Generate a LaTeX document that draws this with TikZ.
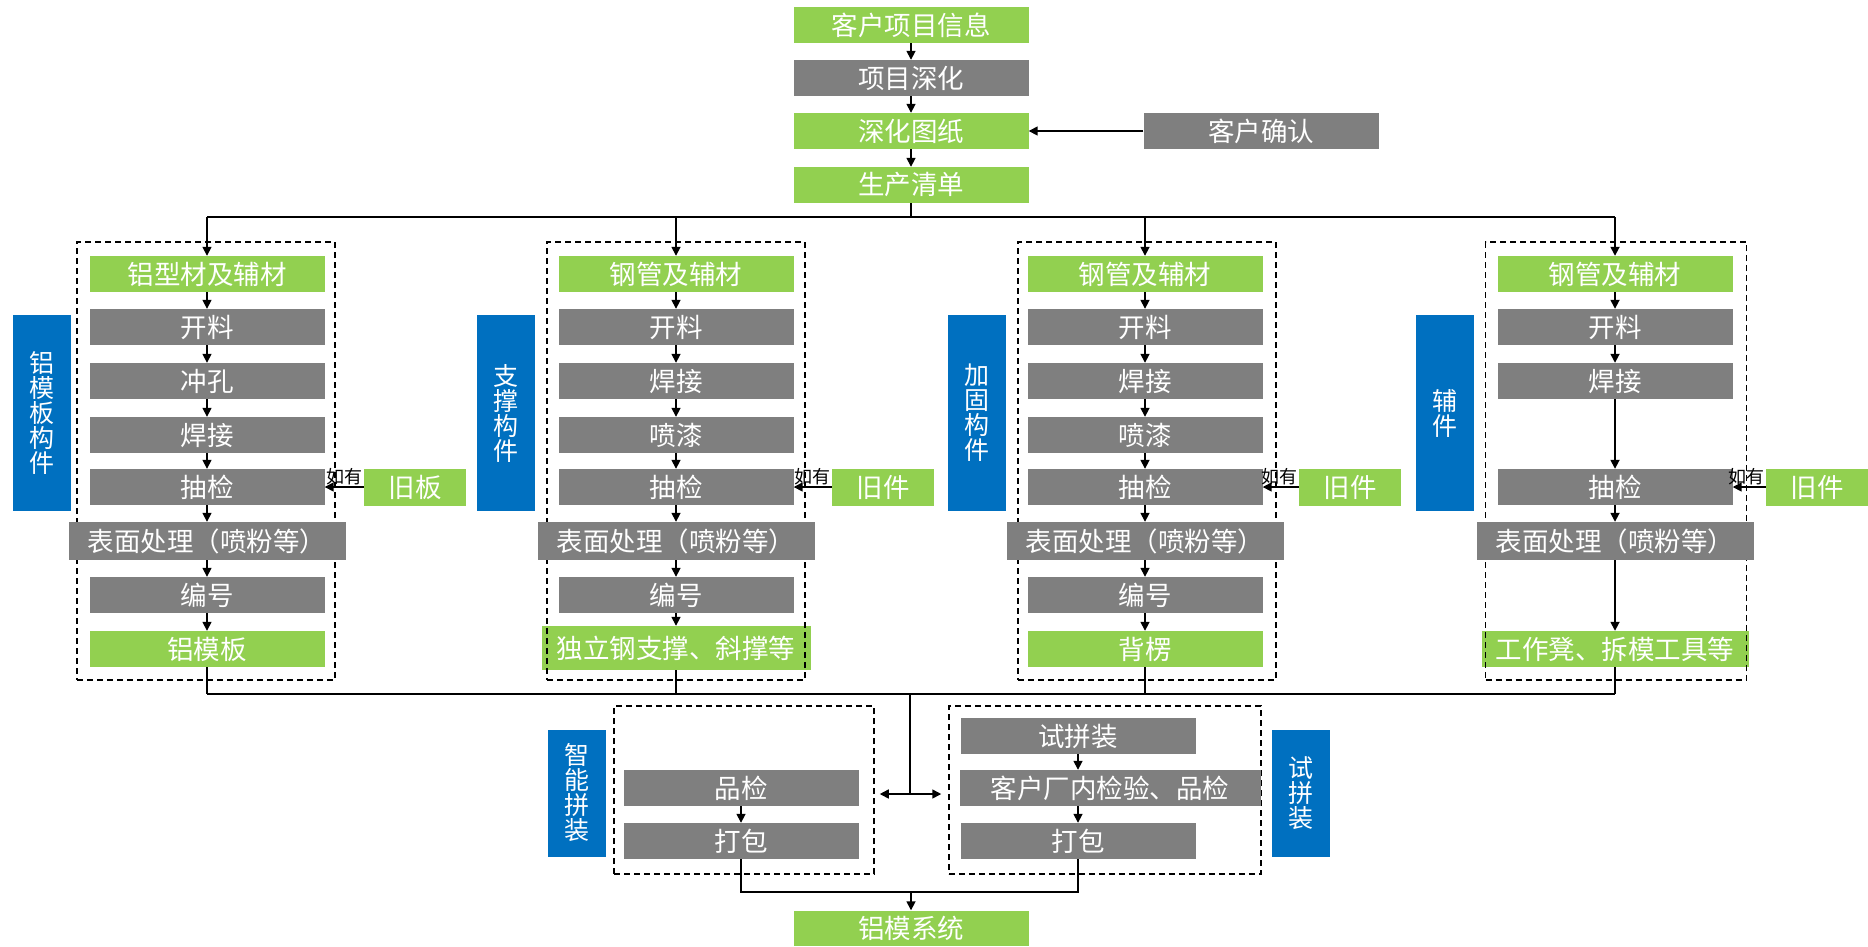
\documentclass[tikz,border=0pt]{standalone}
\usepackage{fontspec}
\setmainfont{Noto Sans CJK SC}
\usepackage{xcolor}
\definecolor{fcgreen}{RGB}{146,208,80}
\definecolor{fcgray}{RGB}{127,127,127}
\definecolor{fcblue}{RGB}{0,112,192}
\usetikzlibrary{arrows.meta, positioning}

\tikzset{
  box/.style={text=white, inner sep=0pt, minimum width=235pt, minimum height=36pt,
    font=\fontsize{26.5}{26.5}\selectfont},
  gbox/.style={box, fill=fcgreen},
  kbox/.style={box, fill=fcgray},
  wide/.style={minimum width=277pt, minimum height=38pt},
  side/.style={fill=fcblue, text=white, inner sep=0pt, minimum width=58pt,
    minimum height=196pt, align=center, font=\fontsize{25}{25}\selectfont},
  oldbox/.style={gbox, minimum width=102pt, minimum height=37pt},
  grp/.style={draw, line width=1.5pt, dash pattern=on 6pt off 4pt,
    minimum width=258pt, minimum height=438pt, inner sep=0pt},
  ln/.style={line width=1.6pt},
  arr/.style={ln, -{Triangle[width=9pt,length=9pt]}},
  dbl/.style={ln, {Triangle[width=9pt,length=9pt]}-{Triangle[width=9pt,length=9pt]}},
  note/.style={font=\fontsize{18}{18}\selectfont, inner sep=1pt}
}

\begin{document}
\begin{tikzpicture}[x=1pt, y=-1pt]
  \useasboundingbox (0,0) rectangle (1868,946);

  % --- top: project flow ---
  \node[gbox] (info) at (911,25) {客户项目信息};
  \node[kbox] (deep) at (911,78) {项目深化};
  \node[gbox] (dwg) at (911,131) {深化图纸};
  \node[gbox] (list) at (911,185) {生产清单};
  \node[kbox] (conf) at (1261,131) {客户确认};

  % --- column 1: aluminium formwork ---
  \node[gbox] (a0) at (207,274) {铝型材及辅材};
  \node[kbox] (a1) at (207,327) {开料};
  \node[kbox] (a2) at (207,381) {冲孔};
  \node[kbox] (a3) at (207,435) {焊接};
  \node[kbox] (a4) at (207,487) {抽检};
  \node[kbox] (a6) at (207,595) {编号};
  \node[gbox] (a7) at (207,649) {铝模板};
  \node[side] (as) at (42,413) {铝\\模\\板\\构\\件};
  \node[oldbox] (ao) at (415,487) {旧板};

  % --- column 2: supports ---
  \node[gbox] (b0) at (676,274) {钢管及辅材};
  \node[kbox] (b1) at (676,327) {开料};
  \node[kbox] (b2) at (676,381) {焊接};
  \node[kbox] (b3) at (676,435) {喷漆};
  \node[kbox] (b4) at (676,487) {抽检};
  \node[kbox] (b6) at (676,595) {编号};
  \node[gbox, minimum width=269pt, minimum height=44pt] (b7) at (676,648) {独立钢支撑、斜撑等};
  \node[side] (bs) at (506,413) {支\\撑\\构\\件};
  \node[oldbox] (bo) at (883,487) {旧件};

  % --- column 3: reinforcement ---
  \node[gbox] (c0) at (1145,274) {钢管及辅材};
  \node[kbox] (c1) at (1145,327) {开料};
  \node[kbox] (c2) at (1145,381) {焊接};
  \node[kbox] (c3) at (1145,435) {喷漆};
  \node[kbox] (c4) at (1145,487) {抽检};
  \node[kbox] (c6) at (1145,595) {编号};
  \node[gbox] (c7) at (1145,649) {背楞};
  \node[side] (cs) at (977,413) {加\\固\\构\\件};
  \node[oldbox] (co) at (1350,487) {旧件};

  % --- column 4: accessories ---
  \node[gbox] (d0) at (1615,274) {钢管及辅材};
  \node[kbox] (d1) at (1615,327) {开料};
  \node[kbox] (d2) at (1615,381) {焊接};
  \node[kbox] (d4) at (1615,487) {抽检};
  \node[gbox, minimum width=267pt] (d7) at (1615,649) {工作凳、拆模工具等};
  \node[side] (ds) at (1445,413) {辅\\件};
  \node[oldbox] (do) at (1817,487) {旧件};

  % Group frames
  \node[grp] (ga) at (206,461) {};
  \node[grp] (gb) at (676,461) {};
  \node[grp] (gc) at (1147,461) {};
  \node[grp, minimum width=261pt] (gd) at (1616,461) {};

  % Surface treatment (over the frames)
  \node[kbox, wide] (a5) at (207,541) {表面处理（喷粉等）};
  \node[kbox, wide] (b5) at (676,541) {表面处理（喷粉等）};
  \node[kbox, wide] (c5) at (1145,541) {表面处理（喷粉等）};
  \node[kbox, wide] (d5) at (1615,541) {表面处理（喷粉等）};

  % --- bottom: assembly ---
  \node[grp, minimum width=260pt, minimum height=168pt] (gl) at (744,790) {};
  \node[grp, minimum width=312pt, minimum height=168pt] (gr) at (1105,790) {};
  \node[kbox] (qc) at (741,788) {品检};
  \node[kbox] (pk1) at (741,841) {打包};
  \node[kbox] (trial) at (1078,736) {试拼装};
  \node[kbox, minimum width=301pt] (insp) at (1110,788) {客户厂内检验、品检};
  \node[kbox] (pk2) at (1078,841) {打包};
  \node[side, minimum height=127pt] (sl) at (577,793) {智\\能\\拼\\装};
  \node[side, minimum height=127pt] (sr) at (1301,793) {试\\拼\\装};
  \node[gbox, minimum height=35pt] (sys) at (911,928) {铝模系统};

  % Connectors
  \draw[arr] (info) -- (deep);
  \draw[arr] (deep) -- (dwg);
  \draw[arr] (dwg) -- (list);
  \draw[arr] (conf) -- (dwg);

  \coordinate (bt) at (911,217);
  \coordinate (bb) at (910,694);
  \draw[ln] (list) -- (bt);
  \draw[ln] (a0.north |- bt) -- (d0.north |- bt);
  \foreach \n in {a0,b0,c0,d0}
    \draw[arr] (\n.north |- bt) -- (\n);

  \foreach \u/\v in {a0/a1,a1/a2,a2/a3,a3/a4,a4/a5,a5/a6,a6/a7,
                     b0/b1,b1/b2,b2/b3,b3/b4,b4/b5,b5/b6,b6/b7,
                     c0/c1,c1/c2,c2/c3,c3/c4,c4/c5,c5/c6,c6/c7,
                     d0/d1,d1/d2,d2/d4,d4/d5,d5/d7}
    \draw[arr] (\u) -- (\v);

  \foreach \o/\c in {ao/a4,bo/b4,co/c4,do/d4}
    \draw[arr] (\o) -- (\c) node[note, pos=0, above left] {如有};

  \draw[ln] (a7.south |- bb) -- (d7.south |- bb);
  \foreach \n in {a7,b7,c7,d7}
    \draw[ln] (\n) -- (\n.south |- bb);

  \coordinate (mid) at (910,794);
  \draw[ln] (bb) -- (mid);
  \draw[dbl, shorten <=5pt, shorten >=7pt] (mid -| gl.east) -- (mid -| gr.west);

  \draw[arr] (qc) -- (pk1);
  \draw[arr] (trial) -- (trial.south |- insp.north);
  \draw[arr] (pk2.north |- insp.south) -- (pk2);

  \coordinate (jn) at (911,892);
  \draw[ln] (pk1) -- (pk1.south |- jn) -- (pk2.south |- jn) -- (pk2);
  \draw[arr] (jn) -- (sys);
\end{tikzpicture}
\end{document}
